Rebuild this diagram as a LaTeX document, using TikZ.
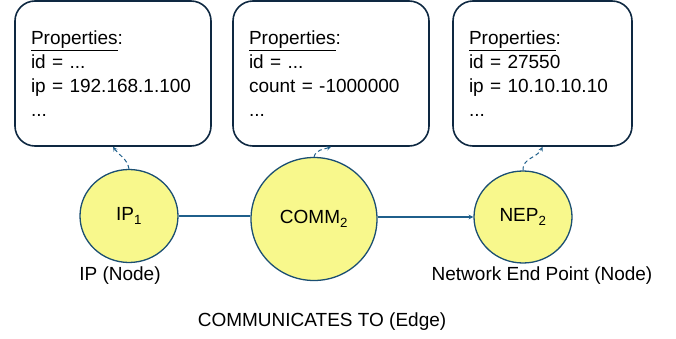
\documentclass[tikz,border=0pt]{standalone}
\usepackage{fontspec}
\setmainfont{Liberation Sans}
\usepackage{xcolor}
\usepackage{tikz}
\usetikzlibrary{shapes.geometric, arrows.meta, positioning}
\definecolor{boxline}{HTML}{0E2841}
\definecolor{nodeline}{HTML}{1B4F72}
\definecolor{nodefill}{HTML}{F8F88C}
\definecolor{linkcol}{HTML}{1F5F8B}
\tikzset{
    propbox/.style={rectangle, draw=boxline, line width=1.6pt, rounded corners=20pt, minimum height=145pt, inner xsep=16pt, align=left, font=\fontsize{19}{24}\selectfont},
    graphnode/.style={ellipse, draw=nodeline, line width=1.3pt, fill=nodefill, inner sep=0pt, font=\fontsize{19}{22}\selectfont},
    caption/.style={font=\fontsize{19}{22}\selectfont, inner sep=2pt},
    link/.style={line width=1.1pt, color=linkcol},
    arrow/.style={link, ->, >=stealth},
    proparrow/.style={line width=1pt, color=linkcol, dashed, dash pattern=on 4pt off 3pt, ->, >=stealth}
}
\begin{document}
\begin{tikzpicture}[x=1pt, y=-1pt]
    \useasboundingbox (0,0) rectangle (676,339);

    % property boxes
    \node (propip) [propbox, text width=164pt] at (113,73.5) {\underline{Properties}:\\ id = ...\\ ip = 192.168.1.100\\ ...};
    \node (propcomm) [propbox, text width=164pt] at (331,73.5) {\underline{Properties}:\\ id = ...\\ count = -1000000\\ ...};
    \node (propnep) [propbox, text width=147pt] at (542.5,73.5) {\underline{Properties}:\\ id = 27550\\ ip = 10.10.10.10\\ ...};

    % graph
    \node (ip) [graphnode, minimum width=98pt, minimum height=93pt] at (129,216) {IP\textsubscript{1}};
    \node (comm) [graphnode, minimum width=126pt, minimum height=123pt] at (314,219) {COMM\textsubscript{2}};
    \node (nep) [graphnode, minimum width=98pt, minimum height=92pt] at (523,217) {NEP\textsubscript{2}};

    \node (iplabel) [caption, below=1pt of ip, xshift=-9pt] {IP (Node)};
    \node (neplabel) [caption, below=1pt of nep, xshift=19pt] {Network End Point (Node)};
    \node (commlabel) [caption, below=29pt of comm, xshift=8pt] {COMMUNICATES TO (Edge)};

    \draw [link] (ip.east) -- (comm.west |- ip.east);
    \draw [arrow] (comm.east |- nep.west) -- (nep.west);

    \draw [proparrow] (ip.north) to[out=100, in=-55] (propip.south);
    \draw [proparrow] (comm.north) to[out=75, in=-160] (propcomm.south);
    \draw [proparrow] (nep.north) to[out=95, in=-115] (propnep.south);
\end{tikzpicture}
\end{document}
